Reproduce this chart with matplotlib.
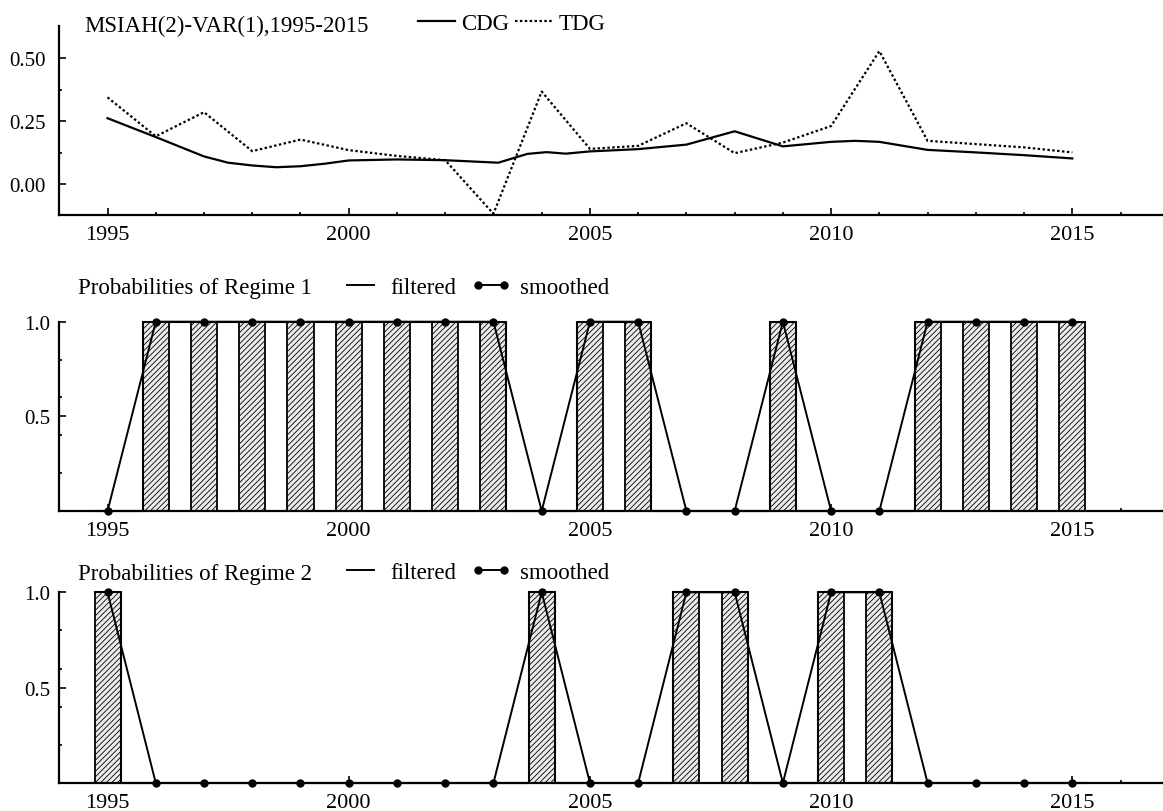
import matplotlib
matplotlib.use('Agg')
import matplotlib.pyplot as plt
from matplotlib.lines import Line2D
from matplotlib.ticker import FixedLocator, MultipleLocator

# ---------------- data ----------------
years = list(range(1995, 2016))

tdg = [0.345, 0.190, 0.286, 0.131, 0.177, 0.135, 0.112, 0.095, -0.118, 0.368,
       0.140, 0.152, 0.242, 0.123, 0.165, 0.231, 0.529, 0.172, 0.159, 0.146, 0.126]

cdg_x = [1995, 1996, 1997, 1997.5, 1998, 1998.5, 1999, 1999.5, 2000, 2001, 2002,
         2003.1, 2003.7, 2004.1, 2004.5, 2005, 2006, 2007, 2008, 2009, 2010,
         2010.5, 2011, 2012, 2013, 2014, 2015]
cdg = [0.262, 0.187, 0.110, 0.085, 0.074, 0.067, 0.071, 0.081, 0.094, 0.098, 0.095,
       0.085, 0.120, 0.127, 0.121, 0.130, 0.139, 0.157, 0.210, 0.150, 0.168,
       0.172, 0.168, 0.136, 0.126, 0.115, 0.102]

filtered1 = [0, 1, 1, 1, 1, 1, 1, 1, 1, 0, 1, 1, 0, 0, 1, 0, 0, 1, 1, 1, 1]
smoothed1 = [0, 1, 1, 1, 1, 1, 1, 1, 1, 0, 1, 1, 0, 0, 1, 0, 0, 1, 1, 1, 1]
filtered2 = [1, 0, 0, 0, 0, 0, 0, 0, 0, 1, 0, 0, 1, 1, 0, 1, 1, 0, 0, 0, 0]
smoothed2 = [1, 0, 0, 0, 0, 0, 0, 0, 0, 1, 0, 0, 1, 1, 0, 1, 1, 0, 0, 0, 0]

major_years = [1995, 2000, 2005, 2010, 2015]
title_top = "MSIAH(2)-VAR(1),1995-2015"
title_r1 = "Probabilities of Regime 1"
title_r2 = "Probabilities of Regime 2"

# ---------------- style ----------------
plt.rcParams['font.family'] = ['Liberation Serif', 'DejaVu Serif']
plt.rcParams['hatch.linewidth'] = 0.6
plt.rcParams['hatch.color'] = '#444444'

W, H = 1163, 812
fig = plt.figure(figsize=(W / 100, H / 100), dpi=100)


def make_ax(left, top, right, bottom):
    return fig.add_axes([left / W, 1 - bottom / H, (right - left) / W, (bottom - top) / H])


ax1 = make_ax(59.3, 26.7, 1163, 216)
ax2 = make_ax(59.3, 322.7, 1163, 512)
ax3 = make_ax(59.3, 593.3, 1163, 784)

XFS = 16
YFS = 15
TFS = 16.5

for ax in (ax1, ax2, ax3):
    for s in ('top', 'right'):
        ax.spines[s].set_visible(False)
    for s in ('left', 'bottom'):
        ax.spines[s].set_linewidth(1.6)
    ax.set_xlim(1994, 2016.88)
    ax.xaxis.set_major_locator(FixedLocator(major_years))
    ax.xaxis.set_minor_locator(MultipleLocator(1))
    ax.set_xticklabels([str(y) for y in major_years])
    ax.tick_params(which='both', direction='in', width=1.2)
    ax.tick_params(which='major', length=4.8)
    ax.tick_params(which='minor', length=2.4)
    ax.tick_params(axis='x', labelsize=XFS, pad=7.5)
    ax.tick_params(axis='y', labelsize=YFS)
    ax.set_facecolor('none')

# ---------------- top panel ----------------
ax1.set_ylim(-0.123, 0.63)
ax1.yaxis.set_major_locator(FixedLocator([0.0, 0.25, 0.5]))
ax1.set_yticklabels(['0.00', '0.25', '0.50'])
ax1.yaxis.set_minor_locator(FixedLocator([0.125, 0.375]))
ax1.tick_params(axis='y', pad=10)
ax1.plot(cdg_x, cdg, color='black', lw=1.6, solid_joinstyle='round', clip_on=False)
ax1.plot(years, tdg, color='black', lw=1.6, linestyle=(0, (1.1, 1.1)), clip_on=False)

fig.text(84 / W, 1 - 31.7 / H, title_top, fontsize=TFS, va='baseline', ha='left')
h_cdg = Line2D([], [], color='black', lw=1.6)
h_tdg = Line2D([], [], color='black', lw=1.6, linestyle=(0, (1.1, 1.1)))
ax1.legend([h_cdg, h_tdg], ['CDG', 'TDG'], ncol=2, loc='center left',
           bbox_to_anchor=(418 / W, 1 - 24 / H), bbox_transform=fig.transFigure,
           frameon=False, fontsize=TFS, handlelength=1.6, handletextpad=0.3,
           columnspacing=0.25, borderpad=0, borderaxespad=0)

# ---------------- regime panels ----------------
BW = 0.54


def step_line(x, v, w):
    xs, ys = [], []
    for i in range(len(x)):
        if i > 0 and v[i] != v[i - 1]:
            edge = x[i - 1] + w / 2 if v[i - 1] > v[i] else x[i] - w / 2
            xs += [edge, edge]
            ys += [v[i - 1], v[i]]
        xs += [x[i] - w / 2, x[i] + w / 2]
        ys += [v[i], v[i]]
    return xs, ys


def regime_panel(ax, filt, smooth, title, title_baseline, legend_y):
    ax.set_ylim(0, 1.0)
    ax.yaxis.set_major_locator(FixedLocator([0.5, 1.0]))
    ax.set_yticklabels(['0.5', '1.0'])
    ax.yaxis.set_minor_locator(FixedLocator([0.2, 0.4, 0.6, 0.8]))
    ax.tick_params(axis='y', pad=6.5)
    bx = [y for y, f in zip(years, filt) if f > 0]
    bh = [f for f in filt if f > 0]
    ax.bar(bx, bh, width=BW, facecolor='#ebebeb', edgecolor='black',
           hatch='//////', linewidth=1.3, clip_on=False, zorder=2)
    sx, sy = step_line(years, filt, BW)
    ax.plot(sx, sy, color='black', lw=1.5, clip_on=False, zorder=3)
    ax.plot(years, smooth, color='black', lw=1.4, marker='o', markersize=5,
            clip_on=False, zorder=4)
    fig.text(78.5 / W, 1 - title_baseline / H, title, fontsize=TFS, va='baseline', ha='left')
    h_f = Line2D([], [], color='black', lw=1.4)
    h_s = Line2D([], [], color='black', lw=1.4, marker='o', markersize=5)
    ax.legend([h_f, h_s], ['filtered', 'smoothed'], ncol=2, loc='center left',
              bbox_to_anchor=(340.6 / W, 1 - legend_y / H), bbox_transform=fig.transFigure,
              frameon=False, fontsize=TFS, handlelength=1.75, handletextpad=0.4,
              columnspacing=0.65, borderpad=0, borderaxespad=0, numpoints=2)


regime_panel(ax2, filtered1, smoothed1, title_r1, 294, 288)
regime_panel(ax3, filtered2, smoothed2, title_r2, 580, 573)

fig.savefig('out.png', dpi=100)
